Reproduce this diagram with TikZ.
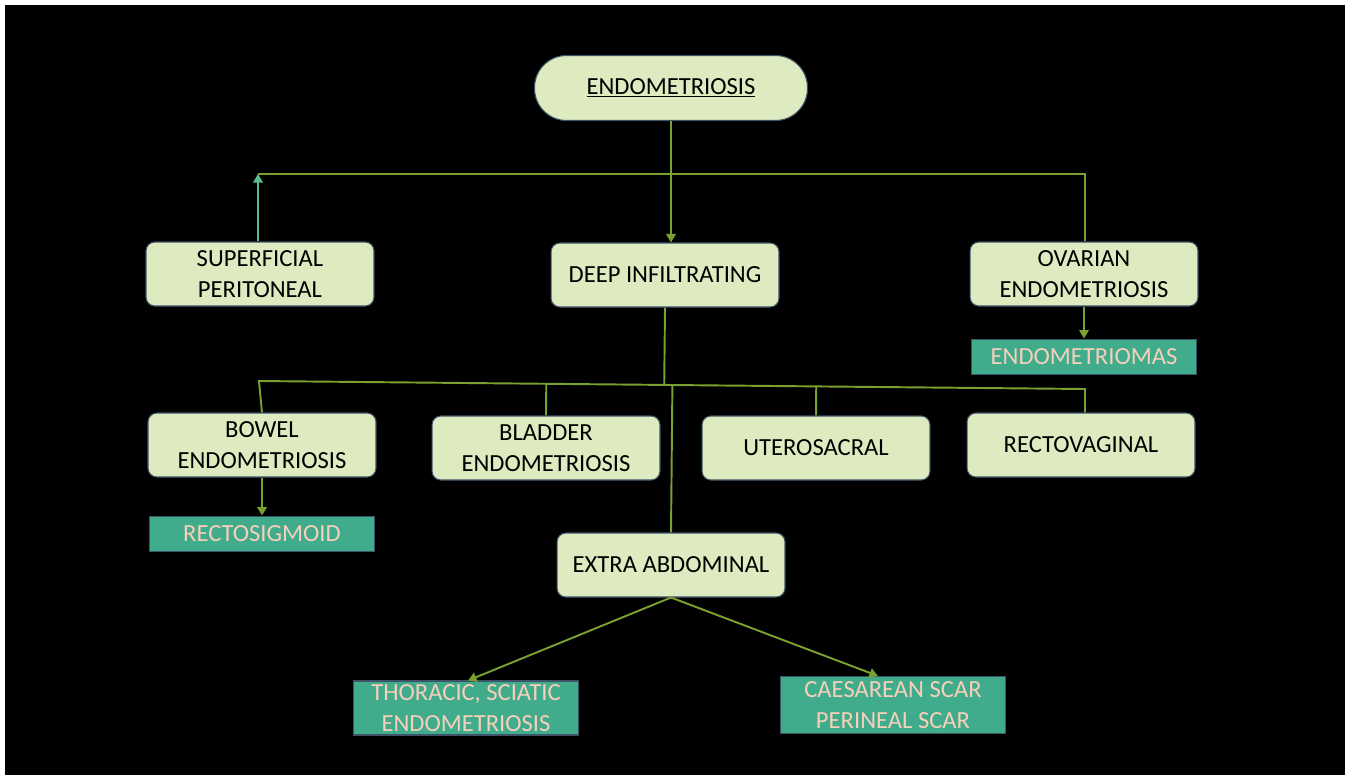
\documentclass[tikz,border=0pt]{standalone}
\usepackage{fontspec}
\setmainfont{Carlito}
\usetikzlibrary{arrows.meta, positioning, calc}

\definecolor{boxfill}{RGB}{222,235,192}
\definecolor{boxline}{RGB}{62,82,104}
\definecolor{linkgreen}{RGB}{122,160,48}
\definecolor{tealfill}{RGB}{64,172,140}
\definecolor{peach}{RGB}{246,208,186}
\definecolor{supteal}{RGB}{84,190,140}

\begin{document}
\begin{tikzpicture}[
    x=0.02cm, y=-0.02cm,
    every node/.style={font=\fontsize{14}{17.5}\selectfont, align=center},
    box/.style={rectangle, draw=boxline, line width=0.6pt, rounded corners=5pt, fill=boxfill, text=black, minimum width=4.56cm, minimum height=1.28cm, inner sep=2pt},
    leaf/.style={rectangle, draw=boxline, line width=0.6pt, fill=tealfill, text=peach, minimum width=4.5cm, minimum height=0.7cm, inner sep=1pt},
    link/.style={linkgreen, line width=1.1pt},
    arrow/.style={link, -{Triangle[length=1.7mm, width=1.9mm]}}
]
    \useasboundingbox (0,0) rectangle (1348,775);
    \fill[white] (0,0) rectangle (1348,775);
    \fill[black] (5,5) rectangle (1345,775);

    \node[box, rounded corners=0.64cm, minimum width=5.46cm, minimum height=1.3cm] (endo) at (671,88) {\underline{ENDOMETRIOSIS}};

    \node[box] (superf) at (260,274) {SUPERFICIAL\\PERITONEAL};
    \node[box] (deep) at (665,275) {DEEP INFILTRATING};
    \node[box] (ovar) at (1084,274) {OVARIAN\\ENDOMETRIOSIS};
    \node[leaf, below=0.64cm of ovar] (omas) {ENDOMETRIOMAS};

    \node[box] (bowel) at (262,445) {BOWEL\\ENDOMETRIOSIS};
    \node[box] (bladder) at (546,448) {BLADDER\\ENDOMETRIOSIS};
    \node[box] (utero) at (816,448) {UTEROSACRAL};
    \node[box] (recto) at (1081,445) {RECTOVAGINAL};
    \node[leaf, below=0.76cm of bowel] (sigmoid) {RECTOSIGMOID};

    \node[box] (extra) at (671,565) {EXTRA ABDOMINAL};
    \node[leaf, minimum height=1.08cm] (thor) at (466,708) {THORACIC, SCIATIC\\ENDOMETRIOSIS};
    \node[leaf, minimum height=1.14cm] (caes) at (893,705) {CAESAREAN SCAR\\PERINEAL SCAR};

    % top level
    \coordinate (topleft) at (258,174);
    \coordinate (topright) at (1085,174);
    \draw[arrow] (endo.south) -- (endo.south |- deep.north);
    \draw[link] (topleft) -- (topright) -- (topright |- ovar.north);
    \draw[arrow, supteal] (topleft |- superf.north) -- (topleft);
    \draw[arrow] (ovar.south) -- (omas.north);

    % deep infiltrating branches
    \coordinate (busleft) at (259,381);
    \coordinate (busright) at (1085,389);
    \draw[link] (deep.south) -- ($(busleft)!(deep.south)!(busright)$);
    \draw[link] (bowel.north) -- (busleft) -- (busright) -- (busright |- recto.north);
    \draw[link] (bladder.north) -- ($(busleft)!(bladder.north)!(busright)$);
    \draw[link] (utero.north) -- ($(busleft)!(utero.north)!(busright)$);
    \draw[link] (extra.north) -- ($(busleft)!(extra.north)!(busright)$);
    \draw[arrow] (bowel.south) -- (sigmoid.north);

    % extra abdominal
    \draw[arrow] (extra.south) -- ([xshift=0.04cm]thor.north);
    \draw[arrow] (extra.south) -- ([xshift=-0.3cm]caes.north);
\end{tikzpicture}
\end{document}
